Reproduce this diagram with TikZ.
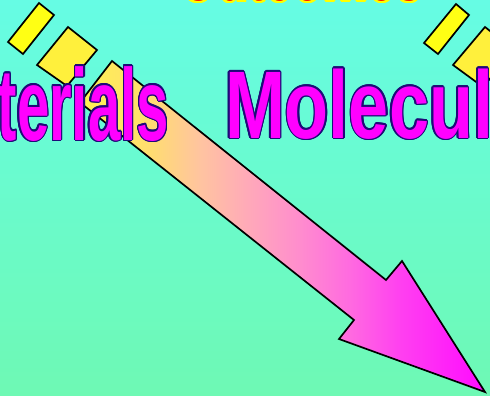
\documentclass[tikz,border=0pt]{standalone}
\usepackage{fontspec}
\usepackage{contour}
\usepackage{graphicx}
\newfontfamily\lsans{Liberation Sans}
\contourlength{1.3pt}
\definecolor{bgtop}{RGB}{102,252,228}
\definecolor{bgbot}{RGB}{110,249,180}
\definecolor{a0}{RGB}{255,242,80}
\definecolor{a1}{RGB}{255,221,112}
\definecolor{a2}{RGB}{255,196,160}
\definecolor{a3}{RGB}{255,168,186}
\definecolor{a4}{RGB}{255,140,206}
\definecolor{a5}{RGB}{255,106,224}
\definecolor{a6}{RGB}{255,64,240}
\definecolor{a7}{RGB}{255,10,255}
\definecolor{outl}{RGB}{30,10,120}
\definecolor{wordfill}{RGB}{255,0,255}
\definecolor{titlered}{RGB}{255,0,0}
\definecolor{titleyel}{RGB}{255,255,0}
\definecolor{ya}{RGB}{255,255,20}
\definecolor{yb}{RGB}{255,240,60}
\pgfdeclarehorizontalshading{arrowgrad}{100bp}{color(0bp)=(a0); color(25bp)=(a0); color(33.6bp)=(a1); color(39.8bp)=(a2); color(46bp)=(a3); color(52.2bp)=(a4); color(58.3bp)=(a5); color(64.5bp)=(a6); color(75bp)=(a7); color(100bp)=(a7)}
\begin{document}
\begin{tikzpicture}[x=1pt,y=-1pt,
  yrect/.style={draw=black, line width=1.7pt, line join=miter},
  bigarrow/.style={draw=black, line width=1.7pt, line join=miter, shading=arrowgrad},
  wordtxt/.style={inner sep=0pt, outer sep=0pt, text=wordfill, font=\lsans\bfseries}]
\useasboundingbox (0,0) rectangle (490,396);
\clip (0,0) rectangle (490,396);
% background
\shade[top color=bgtop, bottom color=bgbot] (0,0) rectangle (490,396);
% top title (mostly cut off)
\node[inner sep=0pt, anchor=base west, text=titlered, font=\lsans\bfseries\fontsize{96}{100}\selectfont] (title) at (179,1)
  {\contourlength{2pt}\contour{titleyel}{\scalebox{0.52}[1]{Outcomes}}};
% yellow bars, left group
\draw[yrect, fill=ya] (39,3) -- (54,15) -- (23,54) -- (8,42) -- cycle;
\draw[yrect, fill=yb] (68,27) -- (97,50) -- (67,86) -- (37,65) -- cycle;
% yellow bars, right group
\draw[yrect, fill=ya] (456,4) -- (469,15) -- (438,54) -- (424,43) -- cycle;
\draw[yrect, fill=yb] (485,27) -- (514,50) -- (483,87) -- (453,65) -- cycle;
% big arrow
\draw[bigarrow] (112,61) -- (386,280) -- (402,261) -- (485,392) -- (339,339) -- (354,320) -- (80,102.5) -- cycle;
% words
\node[wordtxt, anchor=base east, font=\lsans\bfseries\fontsize{102}{110}\selectfont] (mat) at (169,140)
  {\contour{outl}{\scalebox{0.57}[1]{Materials}}};
\node[wordtxt, anchor=base west, font=\lsans\bfseries\fontsize{96}{104}\selectfont] (mol) at (225,138)
  {\contour{outl}{\scalebox{0.75}[1]{Molecules}}};
\end{tikzpicture}
\end{document}
